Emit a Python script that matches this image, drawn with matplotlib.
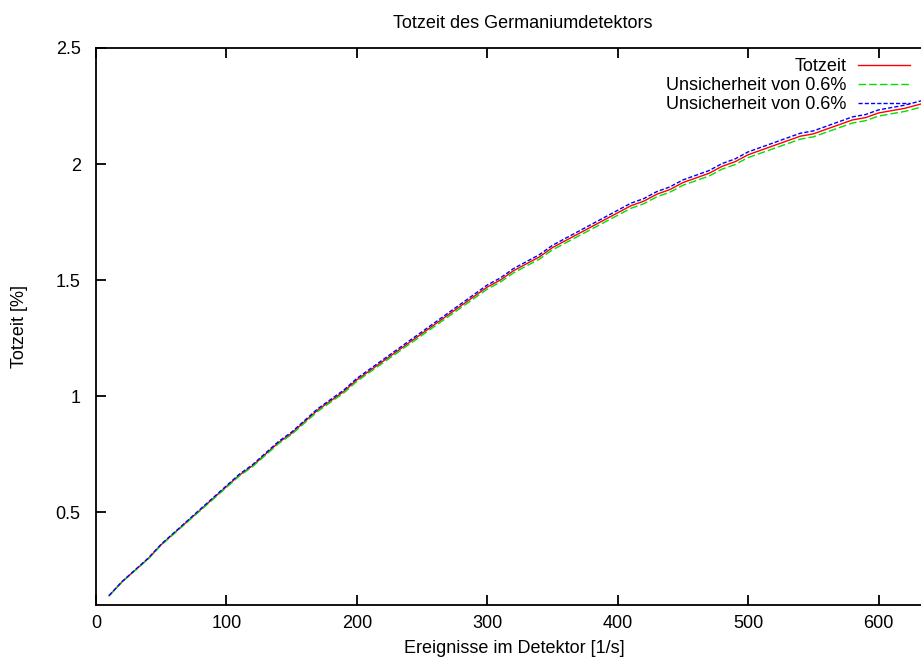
import matplotlib
matplotlib.use("Agg")
import matplotlib.pyplot as plt
from matplotlib.ticker import FuncFormatter, MultipleLocator

plt.rcParams['font.family'] = ['Liberation Sans', 'DejaVu Sans']

# Ereignisse im Detektor [1/s]
rate = [10, 20, 30, 40, 50, 60, 70, 80, 90, 100,
        110, 120, 130, 140, 150, 160, 170, 180, 190, 200,
        210, 220, 230, 240, 250, 260, 270, 280, 290, 300,
        310, 320, 330, 340, 350, 360, 370, 380, 390, 400,
        410, 420, 430, 440, 450, 460, 470, 480, 490, 500,
        510, 520, 530, 540, 550, 560, 570, 580, 590, 600,
        610, 620, 630, 640]
# Totzeit [%]
totzeit = [0.14, 0.20, 0.25, 0.30, 0.36, 0.41, 0.46, 0.51, 0.56, 0.61,
           0.66, 0.70, 0.75, 0.80, 0.84, 0.89, 0.94, 0.98, 1.02, 1.07,
           1.11, 1.15, 1.19, 1.23, 1.27, 1.31, 1.35, 1.39, 1.43, 1.47,
           1.50, 1.54, 1.57, 1.60, 1.64, 1.67, 1.70, 1.73, 1.76, 1.79,
           1.82, 1.84, 1.87, 1.89, 1.92, 1.94, 1.96, 1.99, 2.01, 2.04,
           2.06, 2.08, 2.10, 2.12, 2.13, 2.15, 2.17, 2.19, 2.20, 2.22,
           2.23, 2.24, 2.255, 2.27]
# relative Unsicherheit (0.6 %)
unsicherheit = 0.006

lower = [t * (1 - unsicherheit) for t in totzeit]
upper = [t * (1 + unsicherheit) for t in totzeit]

fig = plt.figure(figsize=(9.21, 6.61), dpi=100)
# axes reach past the right edge of the picture, like the cropped original
ax = fig.add_axes([96 / 921, 56 / 661, 836 / 921, 557 / 661])

ax.plot(rate, totzeit, color='#ff0000', lw=1.0, label='Totzeit')
ax.plot(rate, lower, color='#00e000', lw=1.0, linestyle=(0, (5.5, 2.2)),
        label='Unsicherheit von 0.6%')
ax.plot(rate, upper, color='#0000ff', lw=1.0, linestyle=(0, (3, 1.5)),
        label='Unsicherheit von 0.6%')

ax.set_xlim(0, 641)
ax.set_ylim(0.1, 2.5)
ax.xaxis.set_major_locator(MultipleLocator(100))
ax.yaxis.set_major_locator(MultipleLocator(0.5))
ax.yaxis.set_major_formatter(FuncFormatter(lambda v, p: '%g' % v))

for s in ax.spines.values():
    s.set_linewidth(1.3)
ax.tick_params(direction='in', length=7, width=1.3, labelsize=13,
               top=True, right=True)
ax.tick_params(axis='x', pad=7)
ax.tick_params(axis='y', pad=11)

ax.set_xlabel('Ereignisse im Detektor [1/s]', fontsize=13, labelpad=6)
ax.set_ylabel('Totzeit [%]', fontsize=13, labelpad=20)
fig.text(523 / 921, 1 - 23 / 661, 'Totzeit des Germaniumdetektors',
         ha='center', va='center', fontsize=13)

ax.legend(loc='upper right', bbox_to_anchor=(910 / 921, 1 - 58 / 661),
          bbox_transform=fig.transFigure, frameon=False, markerfirst=False,
          fontsize=13, handlelength=2.9, handletextpad=0.6,
          labelspacing=0.12, borderaxespad=0, borderpad=0)

fig.savefig('out.png', dpi=100)
